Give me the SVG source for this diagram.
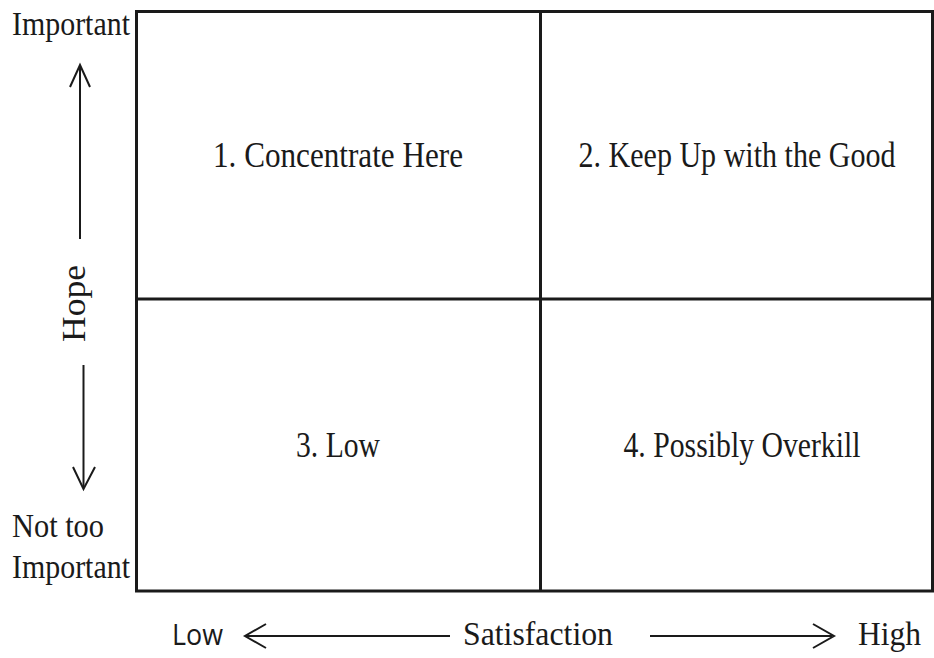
<svg xmlns="http://www.w3.org/2000/svg" width="934" height="658" viewBox="0 0 934 658">
<style>
.t{font-family:"Liberation Serif","Times New Roman",serif;font-size:35px;fill:#1a1a1a}
.e{font-family:"Liberation Serif","Times New Roman",serif;font-size:33px;fill:#1a1a1a}
.s{font-family:"Open Sans","Liberation Sans",sans-serif;font-size:30px;fill:#1a1a1a}
.ln{stroke:#1a1a1a;stroke-width:2;fill:none}
.ah{stroke:#1a1a1a;stroke-width:2;fill:none}
</style>
<rect width="934" height="658" fill="#fff"/>
<g id="grid">
<rect x="136.5" y="11.5" width="796" height="579.5" fill="none" stroke="#1a1a1a" stroke-width="3"/>
<line x1="540.5" y1="11.5" x2="540.5" y2="591" stroke="#1a1a1a" stroke-width="3"/>
<line x1="136.5" y1="299" x2="932.5" y2="299" stroke="#1a1a1a" stroke-width="3"/>
</g>
<g id="q1"><text class="t" x="338" y="167" text-anchor="middle" textLength="250" lengthAdjust="spacingAndGlyphs">1. Concentrate Here</text></g>
<g id="q2"><text class="t" x="737" y="167" text-anchor="middle" textLength="317" lengthAdjust="spacingAndGlyphs">2. Keep Up with the Good</text></g>
<g id="q3"><text class="t" x="338" y="457" text-anchor="middle" textLength="84" lengthAdjust="spacingAndGlyphs">3. Low</text></g>
<g id="q4"><text class="t" x="742" y="457" text-anchor="middle" textLength="237" lengthAdjust="spacingAndGlyphs">4. Possibly Overkill</text></g>
<g id="labels">
<text class="e" x="12" y="35" textLength="118" lengthAdjust="spacingAndGlyphs">Important</text>
<text class="e" x="12" y="537" textLength="92" lengthAdjust="spacingAndGlyphs">Not too</text>
<text class="e" x="12" y="578" textLength="118" lengthAdjust="spacingAndGlyphs">Important</text>
<text class="e" transform="translate(85,303.5) rotate(-90)" text-anchor="middle" textLength="77" lengthAdjust="spacingAndGlyphs">Hope</text>
<text class="s" x="172" y="645" textLength="51" lengthAdjust="spacingAndGlyphs">Low</text>
<text class="e" x="463" y="645" textLength="150" lengthAdjust="spacingAndGlyphs">Satisfaction</text>
<text class="e" x="858" y="645" textLength="63" lengthAdjust="spacingAndGlyphs">High</text>
</g>
<g id="connectors">
<line class="ln" x1="80" y1="66" x2="80" y2="239"/>
<polyline class="ah" points="70,87 80,65 90,87"/>
<line class="ln" x1="83.5" y1="365" x2="83.5" y2="488"/>
<polyline class="ah" points="73,467 83.5,489 95,467"/>
<line class="ln" x1="246" y1="636" x2="450" y2="636"/>
<polyline class="ah" points="266,624 245,636 266,648"/>
<line class="ln" x1="650" y1="636" x2="832" y2="636"/>
<polyline class="ah" points="813,624 834,636 813,648"/>
</g>
</svg>
